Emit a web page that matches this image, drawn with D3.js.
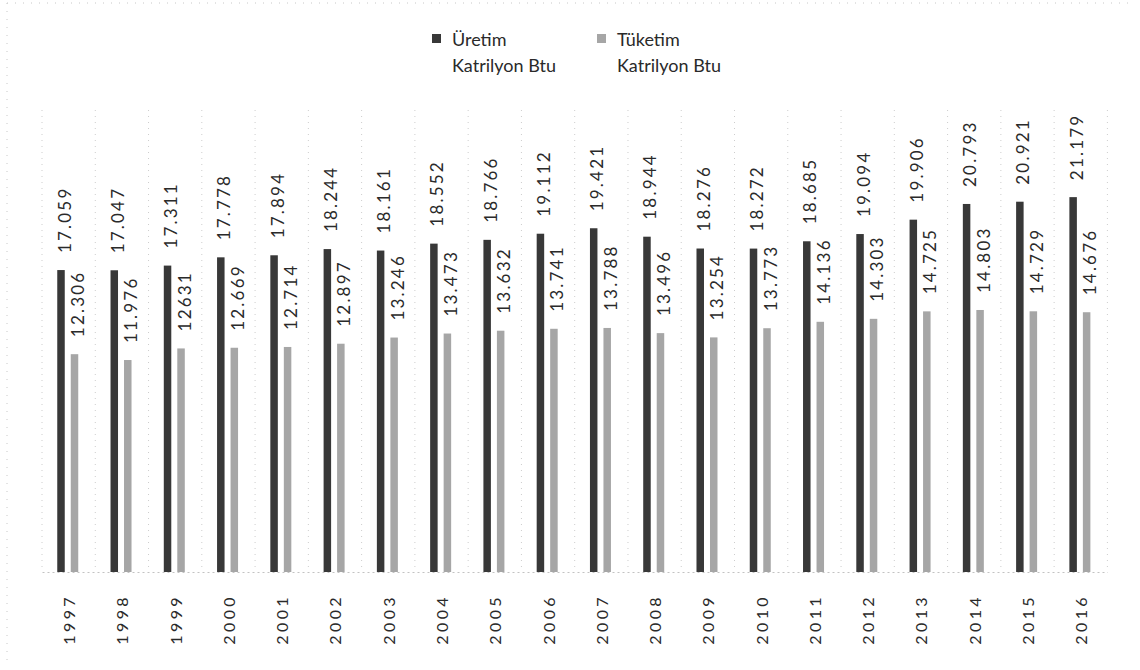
<!DOCTYPE html>
<html>
<head>
<meta charset="utf-8">
<script src="https://cdn.jsdelivr.net/npm/d3@7"></script>
<style>
  html, body { margin: 0; padding: 0; background: #fff; }
  svg { display: block; }
  text { font-family: Lato, "Open Sans", sans-serif; fill: #2a2a2a; }
</style>
</head>
<body>
<svg id="chart" width="1140" height="670"></svg>
<script>
const years = ["1997","1998","1999","2000","2001","2002","2003","2004","2005","2006","2007","2008","2009","2010","2011","2012","2013","2014","2015","2016"];
const uretim = [17.059,17.047,17.311,17.778,17.894,18.244,18.161,18.552,18.766,19.112,19.421,18.944,18.276,18.272,18.685,19.094,19.906,20.793,20.921,21.179];
const tuketim = [12.306,11.976,12.631,12.669,12.714,12.897,13.246,13.473,13.632,13.741,13.788,13.496,13.254,13.773,14.136,14.303,14.725,14.803,14.729,14.676];
const uretimLabels = ["17.059","17.047","17.311","17.778","17.894","18.244","18.161","18.552","18.766","19.112","19.421","18.944","18.276","18.272","18.685","19.094","19.906","20.793","20.921","21.179"];
const tuketimLabels = ["12.306","11.976","12631","12.669","12.714","12.897","13.246","13.473","13.632","13.741","13.788","13.496","13.254","13.773","14.136","14.303","14.725","14.803","14.729","14.676"];
const seriesNames = ["Üretim", "Tüketim"];
const seriesUnit = "Katrilyon Btu";

const colors = { "Üretim": "#383838", "Tüketim": "#a6a6a6" };

const svg = d3.select("#chart");

// faint scanned chart border
svg.append("line").attr("x1", 7).attr("x2", 7).attr("y1", 3).attr("y2", 667)
  .attr("stroke", "#c8c8c8").attr("stroke-dasharray", "1,7");
svg.append("line").attr("x1", 7).attr("x2", 1135).attr("y1", 3).attr("y2", 3)
  .attr("stroke", "#c8c8c8").attr("stroke-dasharray", "1,7");

const x0 = d3.scaleBand().domain(years).range([42, 1107.4]).padding(0);
const x1 = d3.scaleBand().domain(seriesNames).range([12.25, 39.25]).padding(0);
const y = d3.scaleLinear().domain([0, 25]).range([572, 572 - 25 * 17.7]);
const barW = 7.5;
const gridTop = 110;

// vertical dotted separators
const seps = years.map((d, i) => x0.range()[0] + i * x0.step()).concat([x0.range()[1]]);
svg.append("g").selectAll("line").data(seps).join("line")
  .attr("x1", d => d).attr("x2", d => d)
  .attr("y1", gridTop).attr("y2", y(0))
  .attr("stroke", "#cdcdcd").attr("stroke-dasharray", "1,5");

// baseline axis
const xAxis = d3.axisBottom(x0).tickSize(0).tickPadding(0);
const gAxis = svg.append("g").attr("transform", `translate(0,${y(0)})`).call(xAxis);
gAxis.select(".domain").attr("stroke", "#c2c2c2").attr("stroke-dasharray", "2,3");
gAxis.selectAll(".tick text")
  .attr("text-anchor", "end")
  .attr("dy", null).attr("y", null)
  .attr("transform", "translate(0,22) rotate(-90)")
  .attr("dominant-baseline", "central")
  .style("font-size", "16px")
  .style("letter-spacing", "3.4px")
  .attr("fill", "#2a2a2a");

const data = years.map((yr, i) => ({
  year: yr,
  vals: [
    { s: "Üretim", v: uretim[i], label: uretimLabels[i] },
    { s: "Tüketim", v: tuketim[i], label: tuketimLabels[i] }
  ]
}));

const groups = svg.append("g").selectAll("g").data(data).join("g")
  .attr("transform", d => `translate(${x0(d.year)},0)`);

groups.selectAll("rect").data(d => d.vals).join("rect")
  .attr("x", d => x1(d.s) + x1.bandwidth() / 2 - barW / 2)
  .attr("width", barW)
  .attr("y", d => y(d.v))
  .attr("height", d => y(0) - y(d.v))
  .attr("fill", d => colors[d.s]);

groups.selectAll("text.val").data(d => d.vals).join("text")
  .attr("class", "val")
  .attr("transform", d => `translate(${x1(d.s) + x1.bandwidth() / 2 + 3},${y(d.v) - 17}) rotate(-90)`)
  .attr("dominant-baseline", "central")
  .style("font-size", "17px")
  .style("letter-spacing", "2.2px")
  .text(d => d.label);

// legend
const legend = svg.append("g");
const legendX = [432, 597];
seriesNames.forEach((s, i) => {
  const g = legend.append("g").attr("transform", `translate(${legendX[i]},0)`);
  g.append("rect").attr("x", 0).attr("y", 34).attr("width", 9).attr("height", 9).attr("fill", colors[s]);
  g.append("text").attr("x", 20).attr("y", 46).style("font-size", "18px").text(s);
  g.append("text").attr("x", 20).attr("y", 72).style("font-size", "18px").text(seriesUnit);
});
</script>
</body>
</html>
